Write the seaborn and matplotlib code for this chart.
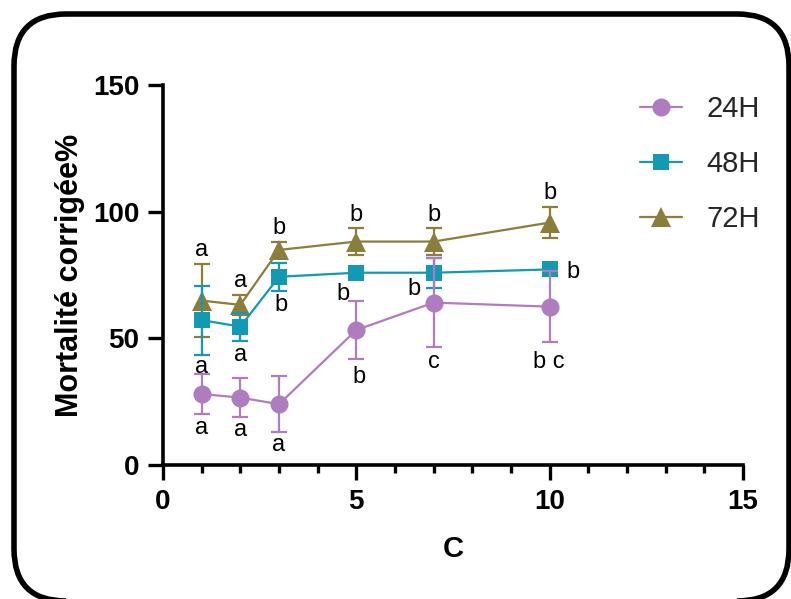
import numpy as np
import pandas as pd
import seaborn as sns
import matplotlib.pyplot as plt
from matplotlib.patches import FancyBboxPatch

# concentrations
conc = [1, 2, 3, 5, 7, 10]

# mean corrected mortality (%) and SD per exposure time
m24 = [28.0, 26.6, 24.0, 53.3, 64.1, 62.5]
sd24 = [8.0, 7.8, 11.0, 11.5, 17.5, 14.0]
m48 = [57.2, 54.6, 74.3, 75.9, 75.9, 77.2]
sd48 = [13.6, 5.5, 5.5, 2.0, 6.0, 2.5]
m72 = [64.9, 63.2, 84.9, 88.2, 88.2, 95.7]
sd72 = [14.5, 4.0, 3.3, 5.5, 5.5, 6.0]

# significance letters (x, y, text)
letters = [
    (1.0, 85.0, "a"), (1.0, 38.8, "a"), (1.0, 14.5, "a"),
    (2.0, 72.5, "a"), (2.0, 43.4, "a"), (2.0, 13.8, "a"),
    (3.0, 93.5, "b"), (3.05, 63.2, "b"), (3.0, 7.9, "a"),
    (5.0, 98.8, "b"), (4.66, 67.6, "b"), (5.08, 34.9, "b"),
    (7.0, 98.8, "b"), (6.49, 69.6, "b"), (7.0, 40.8, "c"),
    (10.0, 107.3, "b"), (10.61, 76.0, "b"), (9.98, 40.8, "b c"),
]

series = [
    ("72H", m72, sd72, "#8B7D3A", "^", 14, 2),
    ("48H", m48, sd48, "#1399B3", "s", 12, 3),
    ("24H", m24, sd24, "#B07CC0", "o", 13, 4),
]

sns.set_style("ticks")
plt.rcParams["font.family"] = ["Liberation Sans", "DejaVu Sans"]

fig = plt.figure(figsize=(7.91, 5.99), dpi=100)
ax = fig.add_axes([163 / 791, 134 / 599, 580 / 791, 380 / 599])

for name, m, sd, col, mk, ms, z in series:
    df = pd.DataFrame({"C": conc, "y": m})
    sns.lineplot(data=df, x="C", y="y", ax=ax, color=col, marker=mk,
                 markersize=ms, markeredgewidth=0, linewidth=1.6,
                 label=name, zorder=z)
    ax.errorbar(conc, m, yerr=sd, fmt="none", ecolor=col, elinewidth=1.6,
                capsize=6, capthick=1.6, zorder=z)

for x, y, t in letters:
    ax.text(x, y, t, ha="center", va="center", fontsize=17, color="black")

ax.set_xlim(0, 15)
ax.set_ylim(0, 150)
ax.set_xticks([0, 5, 10, 15])
ax.set_xticks(np.arange(0, 16, 1), minor=True)
ax.set_yticks([0, 50, 100, 150])
ax.tick_params(axis="both", which="major", length=11, width=2.4,
               labelsize=20, pad=6, color="black", labelcolor="black")
ax.tick_params(axis="x", which="minor", length=6, width=2.4, color="black")
for lab in ax.get_xticklabels() + ax.get_yticklabels():
    lab.set_fontweight("bold")
for s in ["left", "bottom"]:
    ax.spines[s].set_linewidth(2.6)
    ax.spines[s].set_color("black")
sns.despine(ax=ax)
ax.set_xlabel("C", fontsize=21, fontweight="bold", labelpad=15,
              color="black")
ax.set_ylabel("Mortalité corrigée%", fontsize=22, fontweight="bold",
              labelpad=6, color="black")

handles, labels = ax.get_legend_handles_labels()
order = [labels.index(n) for n in ["24H", "48H", "72H"]]
ax.legend([handles[i] for i in order], [labels[i] for i in order],
          loc="upper left", bbox_to_anchor=(0.822, 0.974), frameon=False,
          fontsize=21, handlelength=1.45, handletextpad=0.85,
          labelspacing=0.93, borderaxespad=0, borderpad=0)

border = FancyBboxPatch((14, -2), 775, 587,
                        boxstyle="round,pad=0,rounding_size=52",
                        transform=None, fill=False, edgecolor="black",
                        linewidth=4, clip_on=False)
fig.patches.append(border)

fig.savefig("out.png", dpi=100)
